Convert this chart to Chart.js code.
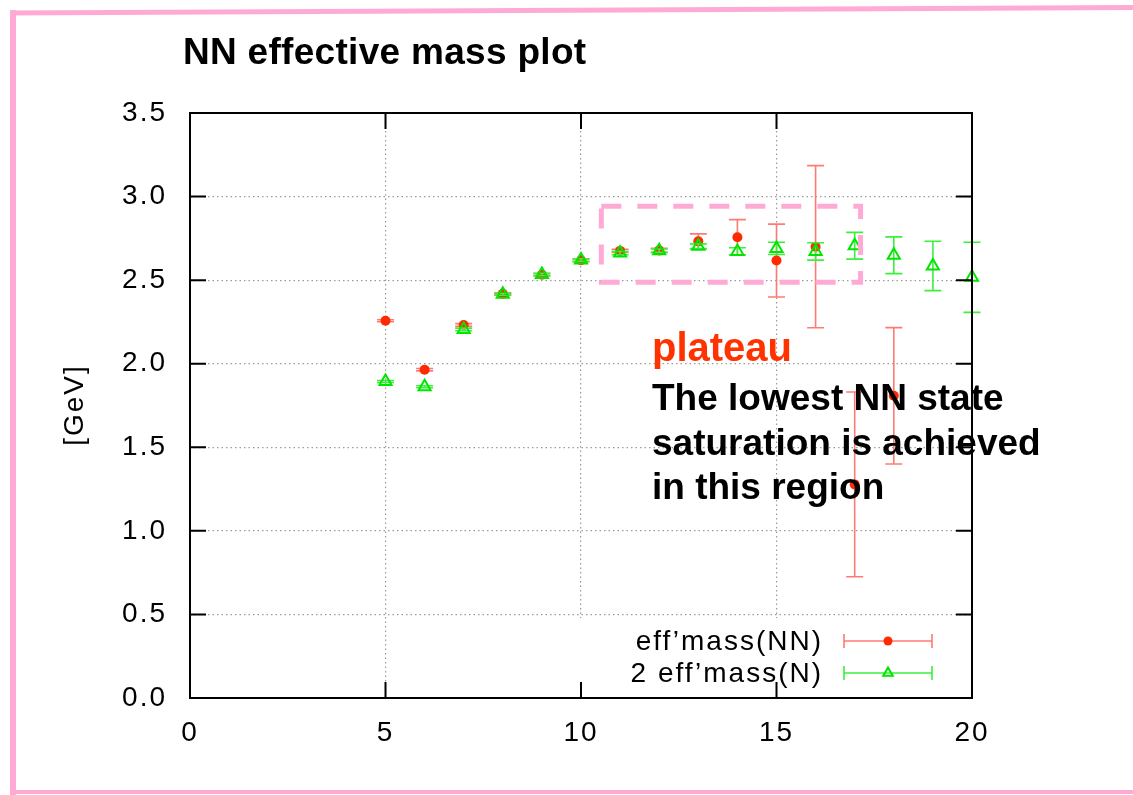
<!DOCTYPE html>
<html>
<head>
<meta charset="utf-8">
<title>NN effective mass plot</title>
<script src="https://cdn.jsdelivr.net/npm/chart.js@4.4.1/dist/chart.umd.min.js"></script>
<style>
  html, body { margin: 0; padding: 0; background: #ffffff; }
  canvas { display: block; }
</style>
</head>
<body>
<canvas id="chart" width="1133" height="795"></canvas>
<script>
// Euclidean time slices and effective masses [GeV]
const nnSlices = [5, 6, 7, 8, 9, 10, 11, 12, 13, 14, 15, 16, 17, 18];
const nnMass   = [2.257, 1.964, 2.232, 2.418, 2.532, 2.619, 2.675, 2.678, 2.732, 2.757, 2.617, 2.700, 1.278, 1.808];
const nnErr    = [0.006, 0.007, 0.008, 0.006, 0.007, 0.008, 0.010, 0.012, 0.045, 0.105, 0.218, 0.485, 0.553, 0.408];

const nSlices  = [5, 6, 7, 8, 9, 10, 11, 12, 13, 14, 15, 16, 17, 18, 19, 20];
const nMass    = [1.894, 1.862, 2.205, 2.416, 2.534, 2.620, 2.662, 2.676, 2.703, 2.672, 2.690, 2.672, 2.706, 2.649, 2.585, 2.517];
const nErr     = [0.006, 0.006, 0.008, 0.006, 0.007, 0.008, 0.010, 0.010, 0.014, 0.022, 0.037, 0.052, 0.080, 0.110, 0.148, 0.210];

const seriesLabels = ["eff\u2019mass(NN)", "2 eff\u2019mass(N)"];
const xTicks = { min: 0, max: 20, step: 5 };
const yTicks = { min: 0, max: 3.5, step: 0.5 };

// plateau window in data units
const plateauX = [10.52, 17.15];
const plateauY = [2.488, 2.942];

const plotTitle = "NN effective mass plot";
const yTitle = "[GeV]";
const noteHead = "plateau";
const noteLines = ["The lowest NN state", "saturation is achieved", "in this region"];

const RED = '#ff2a00';
const RED_BAR = '#ff7a72';
const GREEN = '#00e600';
const GREEN_BAR = '#3cf03c';
const PINK = '#ffaad4';
const GNU_FONT = '"Liberation Sans", Arial, sans-serif';

const errors = [nnErr, nErr];
const barColors = [RED_BAR, GREEN_BAR];

function triangle(ctx, x, y, r) {
  ctx.beginPath();
  ctx.moveTo(x, y - r);
  ctx.lineTo(x + r * Math.sin(2 * Math.PI / 3), y + r / 2);
  ctx.lineTo(x - r * Math.sin(2 * Math.PI / 3), y + r / 2);
  ctx.closePath();
  ctx.stroke();
}

const decor = {
  id: 'decor',
  beforeDraw(chart) {
    chart.ctx.letterSpacing = '2px';
  },
  beforeDatasetsDraw(chart) {
    // opaque backing for the key
    const { ctx, chartArea } = chart;
    ctx.save();
    ctx.fillStyle = '#ffffff';
    ctx.fillRect(560, 618, chartArea.right - 560 - 1, chartArea.bottom - 618 - 1);
    ctx.restore();
  },
  beforeDatasetDraw(chart, args) {
    // vertical error bars with caps
    const { ctx } = chart;
    const xs = chart.scales.x, ys = chart.scales.y;
    const ds = chart.data.datasets[args.index];
    const err = errors[args.index];
    ctx.save();
    ctx.strokeStyle = barColors[args.index];
    ctx.lineWidth = 1.6;
    ds.data.forEach((p, i) => {
      const px = xs.getPixelForValue(p.x);
      const top = ys.getPixelForValue(p.y + err[i]);
      const bot = ys.getPixelForValue(p.y - err[i]);
      ctx.beginPath();
      ctx.moveTo(px, top); ctx.lineTo(px, bot);
      ctx.moveTo(px - 8.5, top); ctx.lineTo(px + 8.5, top);
      ctx.moveTo(px - 8.5, bot); ctx.lineTo(px + 8.5, bot);
      ctx.stroke();
    });
    ctx.restore();
  },
  afterDraw(chart) {
    const { ctx, chartArea: a } = chart;
    const xs = chart.scales.x, ys = chart.scales.y;
    ctx.save();

    // frame and inward tick marks
    ctx.letterSpacing = '0px';
    ctx.strokeStyle = '#000000';
    ctx.lineWidth = 2;
    ctx.strokeRect(a.left, a.top, a.right - a.left, a.bottom - a.top);
    const tl = 16;
    ctx.beginPath();
    xs.ticks.forEach(t => {
      if (t.value <= xTicks.min || t.value >= xTicks.max) return;
      const px = xs.getPixelForValue(t.value);
      ctx.moveTo(px, a.bottom); ctx.lineTo(px, a.bottom - tl);
      ctx.moveTo(px, a.top); ctx.lineTo(px, a.top + tl);
    });
    ys.ticks.forEach(t => {
      if (t.value <= yTicks.min || t.value >= yTicks.max) return;
      const py = ys.getPixelForValue(t.value);
      ctx.moveTo(a.left, py); ctx.lineTo(a.left + tl, py);
      ctx.moveTo(a.right, py); ctx.lineTo(a.right - tl, py);
    });
    ctx.stroke();

    // key
    ctx.letterSpacing = '2px';
    ctx.font = '28px ' + GNU_FONT;
    ctx.fillStyle = '#000000';
    ctx.textAlign = 'right';
    ctx.textBaseline = 'middle';
    const keyRows = [641, 673];
    seriesLabels.forEach((lab, i) => {
      const y = keyRows[i];
      ctx.fillText(lab, 823, y + 1);
      ctx.strokeStyle = barColors[i];
      ctx.lineWidth = 1.6;
      ctx.beginPath();
      ctx.moveTo(844, y); ctx.lineTo(932, y);
      ctx.moveTo(844, y - 7); ctx.lineTo(844, y + 7);
      ctx.moveTo(932, y - 7); ctx.lineTo(932, y + 7);
      ctx.stroke();
      if (i === 0) {
        ctx.fillStyle = RED;
        ctx.beginPath(); ctx.arc(888, y, 4.5, 0, Math.PI * 2); ctx.fill();
        ctx.fillStyle = '#000000';
      } else {
        ctx.strokeStyle = GREEN;
        ctx.lineWidth = 2;
        triangle(ctx, 888, y, 5.5);
      }
    });

    // y axis title
    ctx.save();
    ctx.translate(75, 405);
    ctx.rotate(-Math.PI / 2);
    ctx.textAlign = 'center';
    ctx.textBaseline = 'middle';
    ctx.fillStyle = '#000000';
    ctx.fillText(yTitle, 0, 0);
    ctx.restore();

    // plateau window
    ctx.letterSpacing = '0px';
    ctx.strokeStyle = PINK;
    ctx.lineWidth = 5;
    ctx.setLineDash([20, 16]);
    const rx0 = xs.getPixelForValue(plateauX[0]), rx1 = xs.getPixelForValue(plateauX[1]);
    const ry0 = ys.getPixelForValue(plateauY[1]), ry1 = ys.getPixelForValue(plateauY[0]);
    ctx.strokeRect(rx0, ry0, rx1 - rx0, ry1 - ry0);
    ctx.setLineDash([]);

    // notes
    ctx.textAlign = 'left';
    ctx.textBaseline = 'alphabetic';
    ctx.font = 'bold 40px ' + GNU_FONT;
    ctx.fillStyle = '#ff3300';
    ctx.fillText(noteHead, 652, 361);
    ctx.font = 'bold 37px ' + GNU_FONT;
    ctx.fillStyle = '#000000';
    noteLines.forEach((s, i) => ctx.fillText(s, 652, 410 + i * 44.5));

    // title
    ctx.font = 'bold 37px ' + GNU_FONT;
    ctx.letterSpacing = '0.3px';
    ctx.fillText(plotTitle, 183, 64);
    ctx.letterSpacing = '0px';

    // page border
    ctx.fillStyle = PINK;
    ctx.beginPath();
    ctx.moveTo(10, 10.5); ctx.lineTo(1133, 5); ctx.lineTo(1133, 10); ctx.lineTo(10, 15.5);
    ctx.closePath(); ctx.fill();
    ctx.fillRect(10, 10, 6, 785);
    ctx.fillRect(10, 790, 1123, 4);

    ctx.restore();
    ctx.letterSpacing = '0px';
  }
};

const gridColor = (ctx, lim) =>
  (ctx.tick && (ctx.tick.value <= lim.min || ctx.tick.value >= lim.max)) ? 'rgba(0,0,0,0)' : '#9c9c9c';

new Chart(document.getElementById('chart'), {
  type: 'scatter',
  data: {
    datasets: [
      {
        label: seriesLabels[0],
        data: nnSlices.map((t, i) => ({ x: t, y: nnMass[i] })),
        pointStyle: 'circle',
        pointRadius: 5,
        pointBackgroundColor: RED,
        pointBorderWidth: 0,
        showLine: false,
        clip: false,
        order: 2
      },
      {
        label: seriesLabels[1],
        data: nSlices.map((t, i) => ({ x: t, y: nMass[i] })),
        pointStyle: 'triangle',
        pointRadius: 7,
        pointBackgroundColor: 'rgba(0,0,0,0)',
        pointBorderColor: GREEN,
        pointBorderWidth: 2,
        showLine: false,
        clip: false,
        order: 1
      }
    ]
  },
  options: {
    responsive: false,
    animation: false,
    devicePixelRatio: 1,
    layout: { padding: { left: 0, top: 113, right: 161, bottom: 0 } },
    plugins: { legend: { display: false }, tooltip: { enabled: false } },
    scales: {
      x: {
        type: 'linear',
        min: xTicks.min, max: xTicks.max,
        ticks: { stepSize: xTicks.step, padding: 18, color: '#000000', font: { family: GNU_FONT, size: 28 } },
        grid: { drawTicks: false, lineWidth: 1.2, color: c => gridColor(c, xTicks) },
        border: { display: false, dash: [1.5, 3] },
        afterFit: s => { s.height = 97; }
      },
      y: {
        type: 'linear',
        min: yTicks.min, max: yTicks.max,
        ticks: { stepSize: yTicks.step, padding: 23, color: '#000000', font: { family: GNU_FONT, size: 28 },
                 callback: v => Number(v).toFixed(1) },
        grid: { drawTicks: false, lineWidth: 1.2, color: c => gridColor(c, yTicks) },
        border: { display: false, dash: [1.5, 3] },
        afterFit: s => { s.height = s.height; s.width = 190; }
      }
    }
  },
  plugins: [decor]
});
</script>
</body>
</html>
